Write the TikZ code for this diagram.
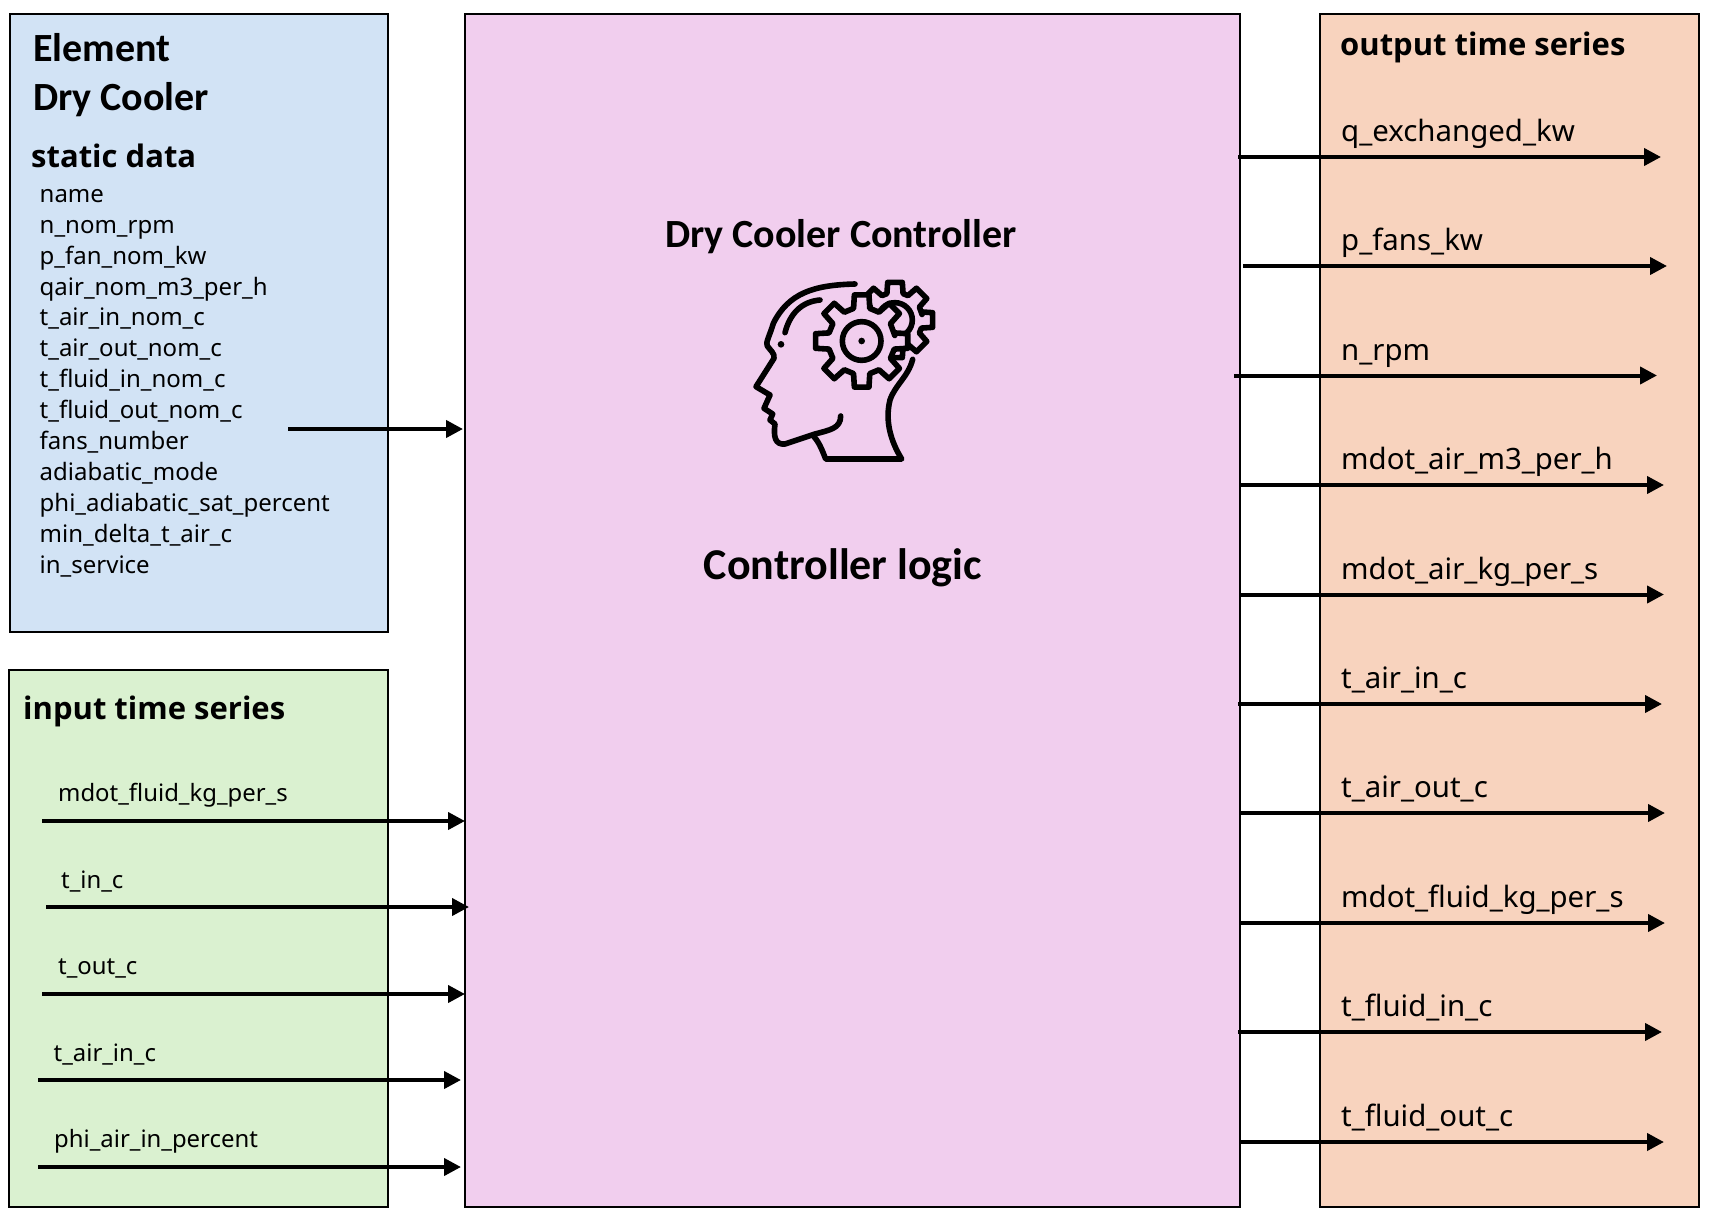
\documentclass[tikz,border=0pt]{standalone}
\usepackage{fontspec}
\setmainfont{Noto Sans}
\newfontfamily\titlefont{Carlito}
\newfontfamily\headfont{Open Sans}
\usepackage{xcolor}
\usetikzlibrary{arrows.meta,positioning}
\definecolor{elementblue}{HTML}{D2E3F5}
\definecolor{inputgreen}{HTML}{DAF1D0}
\definecolor{ctrlpink}{HTML}{F1CEEE}
\definecolor{outputpeach}{HTML}{F8D3BE}
\tikzset{>={Triangle[length=17pt,width=17pt]},
         panel/.style={draw=black,line width=2pt,anchor=north west,inner sep=0pt,outer sep=0pt},
         flow/.style={->,line width=4pt},
         icon/.style={line width=5.6pt,line cap=round,line join=round},
         title/.style={anchor=base west,inner sep=0pt,font=\titlefont\bfseries\fontsize{40}{40}\selectfont},
         head/.style={anchor=base west,inner sep=0pt,font=\headfont\bfseries\fontsize{31}{31}\selectfont},
         staticlbl/.style={anchor=base west,inner sep=0pt,font=\fontsize{24}{30.9}\selectfont},
         inlbl/.style={anchor=base west,inner sep=0pt,font=\fontsize{23.9}{23.9}\selectfont},
         outlbl/.style={anchor=base west,inner sep=0pt,font=\fontsize{29.4}{29.4}\selectfont}}
\newcommand{\drawcog}[3]{%
\draw[icon,fill=ctrlpink,shift={#1}] (-#3*1.05:#2*.72)
 \foreach \a in {0,45,...,315} { -- (\a-#3*1.55:#2*.72) -- (\a-#3:#2) -- (\a+#3:#2) -- (\a+#3*1.55:#2*.72) } -- cycle;}
\begin{document}
\begin{tikzpicture}[x=1pt,y=-1pt]
\useasboundingbox (0,0) rectangle (1709,1215);
\node[panel,fill=elementblue,minimum width=378pt,minimum height=618pt] (element) at (10,14) {};
\node[panel,fill=inputgreen,minimum width=379pt,minimum height=537pt] (input) at (9,670) {};
\node[panel,fill=ctrlpink,minimum width=775pt,minimum height=1193pt] (ctrl) at (465,14) {};
\node[panel,fill=outputpeach,minimum width=379pt,minimum height=1193pt] (output) at (1320,14) {};

\node[title] (elem1) at (33,62) {Element};
\node[title] (elem2) at (33,110.5) {Dry Cooler};
\node[head] (statichd) at (31,167) {static data};
\node[staticlbl,align=left,anchor=north west] (staticlist) at (39.5,189) {name\\n\_nom\_rpm\\p\_fan\_nom\_kw\\qair\_nom\_m3\_per\_h\\t\_air\_in\_nom\_c\\t\_air\_out\_nom\_c\\t\_fluid\_in\_nom\_c\\t\_fluid\_out\_nom\_c\\fans\_number\\adiabatic\_mode\\phi\_adiabatic\_sat\_percent\\min\_delta\_t\_air\_c\\in\_service};
\node[head] (inputhd) at (23,719) {input time series};
\node[head] (outputhd) at (1340,56) {output time series};
\node[title,anchor=base] (ctrltitle) at (841,247.5) {Dry Cooler Controller};
\node[title,anchor=base,font=\titlefont\bfseries\fontsize{44}{44}\selectfont] (ctrllogic) at (843,579) {Controller logic};

\node[inlbl] (in1) at (58,801.5) {mdot\_fluid\_kg\_per\_s};
\node[inlbl] (in2) at (61,888.5) {t\_in\_c};
\node[inlbl] (in3) at (58,974) {t\_out\_c};
\node[inlbl] (in4) at (53.5,1061.5) {t\_air\_in\_c};
\node[inlbl] (in5) at (54,1147.5) {phi\_air\_in\_percent};

\node[outlbl] (out1) at (1341,141) {q\_exchanged\_kw};
\node[outlbl] (out2) at (1341,250) {p\_fans\_kw};
\node[outlbl] (out3) at (1341,360) {n\_rpm};
\node[outlbl] (out4) at (1341,469) {mdot\_air\_m3\_per\_h};
\node[outlbl] (out5) at (1341,579) {mdot\_air\_kg\_per\_s};
\node[outlbl] (out6) at (1341,688) {t\_air\_in\_c};
\node[outlbl] (out7) at (1341,797) {t\_air\_out\_c};
\node[outlbl] (out8) at (1341,907) {mdot\_fluid\_kg\_per\_s};
\node[outlbl] (out9) at (1341,1016) {t\_fluid\_in\_c};
\node[outlbl] (out10) at (1341,1126) {t\_fluid\_out\_c};

\coordinate (sa) at (288,429); \coordinate (sb) at (463,429);
\coordinate (ia1) at (42,821); \coordinate (ib1) at (465,821);
\coordinate (ia2) at (46,907); \coordinate (ib2) at (469,907);
\coordinate (ia3) at (42,994); \coordinate (ib3) at (465,994);
\coordinate (ia4) at (38,1080); \coordinate (ib4) at (461,1080);
\coordinate (ia5) at (38,1167); \coordinate (ib5) at (461,1167);
\coordinate (oa1) at (1238,157); \coordinate (ob1) at (1661,157);
\coordinate (oa2) at (1243,266); \coordinate (ob2) at (1667,266);
\coordinate (oa3) at (1234,375.5); \coordinate (ob3) at (1657,375.5);
\coordinate (oa4) at (1240,485); \coordinate (ob4) at (1664,485);
\coordinate (oa5) at (1240,594.5); \coordinate (ob5) at (1664,594.5);
\coordinate (oa6) at (1238,704); \coordinate (ob6) at (1662,704);
\coordinate (oa7) at (1240,813); \coordinate (ob7) at (1665,813);
\coordinate (oa8) at (1240,923); \coordinate (ob8) at (1665,923);
\coordinate (oa9) at (1238,1032); \coordinate (ob9) at (1662,1032);
\coordinate (oa10) at (1240,1142); \coordinate (ob10) at (1664,1142);
\path[flow]
(sa) edge (sb)
(ia1) edge (ib1)
(ia2) edge (ib2)
(ia3) edge (ib3)
(ia4) edge (ib4)
(ia5) edge (ib5)
(oa1) edge (ob1)
(oa2) edge (ob2)
(oa3) edge (ob3)
(oa4) edge (ob4)
(oa5) edge (ob5)
(oa6) edge (ob6)
(oa7) edge (ob7)
(oa8) edge (ob8)
(oa9) edge (ob9)
(oa10) edge (ob10);

\begin{scope}[shift={(720,260)},scale=1/3]
\drawcog{(525,180)}{115}{11}
\draw[icon] (525,180) circle (52);
\drawcog{(425,243)}{140}{9}
\draw[icon] (425,243) circle (58);
\fill (425,243) circle (10);
\draw[icon] (405,72) .. controls (280,75) and (205,100) .. (160,190) .. controls (150,225) and (135,250) .. (142,258)
 .. controls (150,270) and (165,280) .. (162,295) -- (108,380) -- (150,405) -- (132,445) -- (158,462) -- (150,480) -- (165,492)
 .. controls (160,530) and (165,555) .. (195,552) -- (285,522) .. controls (330,510) and (362,505) .. (362,468);
\draw[icon] (300,120) .. controls (245,125) and (210,160) .. (195,218);
\fill (183,253) circle (10);
\draw[icon] (282,530) .. controls (300,550) and (310,580) .. (317,597) -- (545,597)
 .. controls (510,540) and (495,480) .. (510,420) .. controls (525,375) and (565,350) .. (578,298);
\end{scope}
\end{tikzpicture}
\end{document}
